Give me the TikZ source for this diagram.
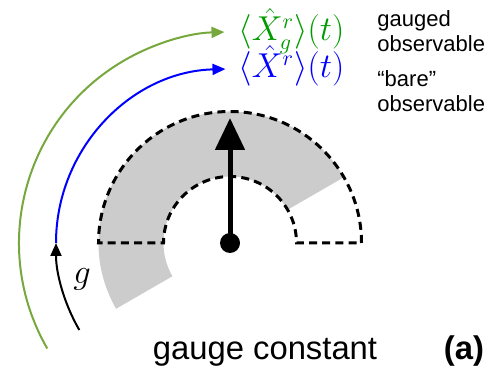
\documentclass[tikz,border=0pt]{standalone}
\usepackage{fontspec}
\setsansfont{Liberation Sans}
\usetikzlibrary{arrows.meta}
\definecolor{arcgreen}{RGB}{118,168,62}
\definecolor{labgreen}{RGB}{0,155,0}
\definecolor{dialgray}{RGB}{204,204,204}
\tikzset{
  dashline/.style={line width=1.5pt, dash pattern=on 4pt off 2.6pt},
  flowarc/.style={line width=1pt},
  smalltip/.style={-{Triangle[width=5.5pt,length=6.5pt]}},
  sidetext/.style={font=\sffamily\fontsize{11}{12.7}\selectfont, align=left, anchor=base west, inner sep=0pt},
  mathlab/.style={font=\fontsize{16}{19}\selectfont, anchor=base west, inner sep=0pt},
}
\begin{document}
\begin{tikzpicture}[x=0.5pt,y=0.5pt]
\useasboundingbox (0,0) rectangle (502,375);
\coordinate (c) at (230,132);
% gray sector
\fill[dialgray] ([shift={(30:131.5)}]c) arc[start angle=30,end angle=210,radius=131.5]
  -- ([shift={(210:66.5)}]c) arc[start angle=210,end angle=30,radius=66.5] -- cycle;
% dashed half annulus
\draw[dashline] ([shift={(0:131.5)}]c) arc[start angle=0,end angle=180,radius=131.5]
  -- ([shift={(180:66.5)}]c) arc[start angle=180,end angle=0,radius=66.5] -- cycle;
% needle
\coordinate (tip) at (230,257);
\draw[line width=2.5pt, -{Triangle[width=14.5pt,length=16pt]}] (c) -- (tip);
\fill (c) circle[radius=10];
% arcs
\coordinate (gs) at ([shift={(210:174)}]c);
\coordinate (bs) at ([shift={(180:174)}]c);
\coordinate (gr) at ([shift={(210:211)}]c);
\draw[flowarc, smalltip] (gs) arc[start angle=210,end angle=180,radius=174];
\draw[flowarc, blue, smalltip] (bs) arc[start angle=180,end angle=91.5,radius=174];
\draw[flowarc, arcgreen, smalltip] (gr) arc[start angle=210,end angle=91.5,radius=211];
% labels
\node[mathlab, text=labgreen] (lg) at (238,334) {$\langle\hat X_g^r\rangle(t)$};
\node[mathlab, text=blue] (lb) at (238,297) {$\langle\hat X^r\rangle(t)$};
\node[font=\fontsize{16}{19}\selectfont, inner sep=0pt] (g) at (82,96) {$g$};
\node[sidetext] (t1) at (377,323) {gauged\\observable};
\node[sidetext] (t2) at (377,263) {“bare”\\observable};
\node[font=\sffamily\fontsize{16.4}{19}\selectfont, anchor=base, inner sep=0pt] (gc) at (265,16) {gauge constant};
\node[font=\sffamily\bfseries\fontsize{16.4}{19}\selectfont, anchor=base, inner sep=0pt] (a) at (464,16) {(a)};
\end{tikzpicture}
\end{document}
